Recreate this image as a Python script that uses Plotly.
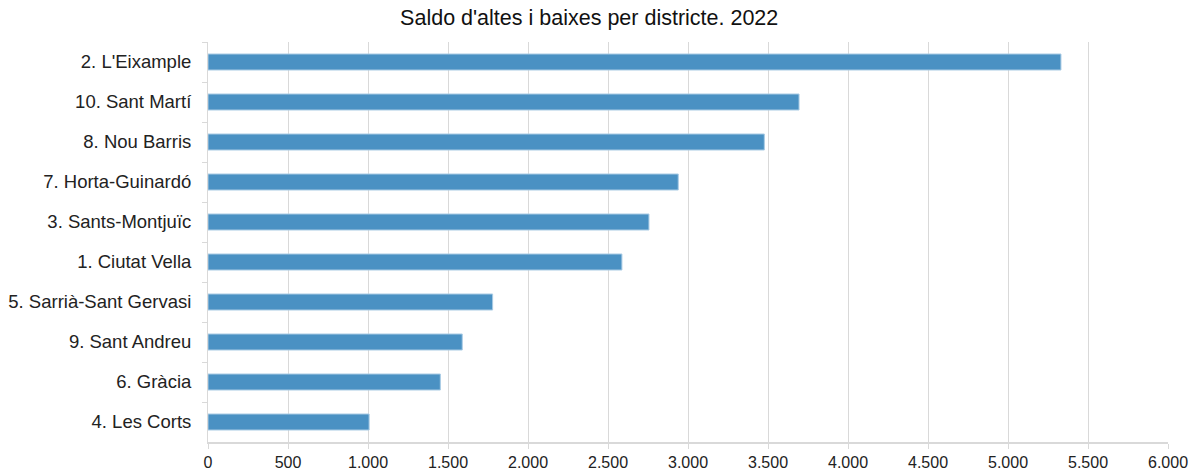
import plotly.graph_objects as go

districts = ["2. L'Eixample", "10. Sant Martí", "8. Nou Barris", "7. Horta-Guinardó",
             "3. Sants-Montjuïc", "1. Ciutat Vella", "5. Sarrià-Sant Gervasi",
             "9. Sant Andreu", "6. Gràcia", "4. Les Corts"]
saldo = [5331, 3694, 3477, 2939, 2756, 2587, 1779, 1589, 1452, 1007]
x_ticks = [0, 500, 1000, 1500, 2000, 2500, 3000, 3500, 4000, 4500, 5000, 5500, 6000]

fig = go.Figure(go.Bar(
    x=saldo, y=districts, orientation="h", width=0.4,
    marker=dict(color="#4A91C3", line=dict(color="#A9CBE4", width=1)),
))

fig.update_layout(
    width=1200, height=474,
    margin=dict(l=208, r=32, t=42, b=32, autoexpand=False),
    paper_bgcolor="white", plot_bgcolor="white",
    separators=",.",
    font=dict(family="Liberation Sans, Arial, sans-serif", size=16, color="#222222"),
    title=dict(text="Saldo d'altes i baixes per districte. 2022", x=0.491, xanchor="center",
               y=0.979, yanchor="top", font=dict(size=21.5, color="#111111")),
    showlegend=False,
    bargap=0.6,
)
fig.update_xaxes(
    range=[0, 6000], tickvals=x_ticks, tickformat=",d",
    showgrid=True, gridcolor="#D9D9D9", gridwidth=1,
    showline=True, linecolor="#D9D9D9", linewidth=2,
    ticks="outside", ticklen=5, tickcolor="#D9D9D9",
    zeroline=False, fixedrange=True, automargin=False,
    tickfont=dict(size=16),
)
fig.update_yaxes(
    autorange="reversed", type="category", automargin=False,
    showgrid=False, showline=True, linecolor="#D9D9D9", linewidth=1,
    ticks="outside", ticklen=5, tickcolor="#D9D9D9", tickson="boundaries",
    ticklabelstandoff=12, tickfont=dict(size=18.5),
)

fig.write_html("out.html", post_script="document.body.style.margin='0';",
               config={"displayModeBar": False})
